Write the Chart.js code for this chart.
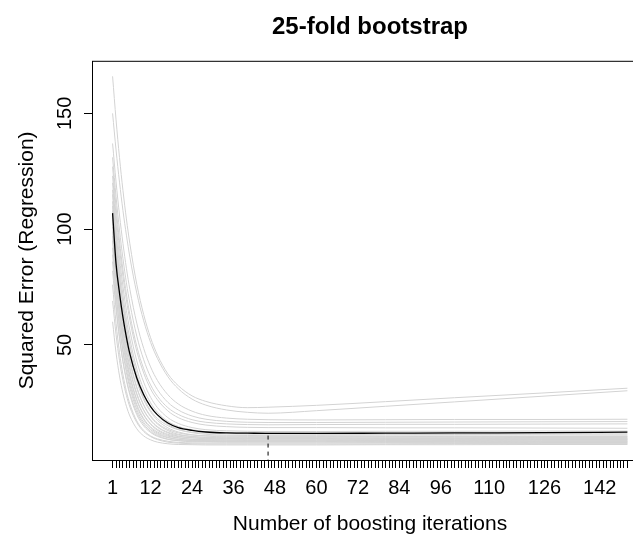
<!DOCTYPE html>
<html>
<head>
<meta charset="utf-8">
<script src="https://cdn.jsdelivr.net/npm/chart.js@4"></script>
<style>
  html, body { margin: 0; padding: 0; overflow: hidden; background: #fff; width: 633px; height: 537px; }
  canvas { display: block; }
</style>
</head>
<body>
<canvas id="c" width="740" height="537"></canvas>
<script>
// ---- data ----
const titleText = "25-fold bootstrap";
const xTitle = "Number of boosting iterations";
const yTitle = "Squared Error (Regression)";
const nIter = 150;
const mstopOpt = 46;
const xLabelTicks = [1, 12, 24, 36, 48, 60, 72, 84, 96, 110, 126, 142];
const yTicks = [50, 100, 150];
const iterations = [1, 2, 3, 4, 5, 6, 8, 10, 12, 14, 17, 20, 24, 28, 34, 40, 46, 60, 80, 100, 125, 150];

const meanRisk = [106.9, 85.0, 72.4, 61.9, 53.3, 46.1, 35.7, 28.5, 23.4, 19.8, 16.3, 14.3, 13.1, 12.4, 12.0, 11.9, 11.8, 11.8, 11.9, 12.0, 12.1, 12.3];

const fold01 = [166, 147.2, 130.9, 116.7, 104.4, 93.7, 76.2, 63.1, 53.1, 45.6, 37.5, 32.4, 28.0, 25.6, 23.7, 22.9, 23.1, 23.9, 25.5, 27.2, 29.2, 31.3];
const fold02 = [150, 134.2, 120.3, 108.0, 97.4, 87.9, 72.4, 60.4, 51.1, 44.1, 36.3, 31.1, 26.6, 24.0, 21.9, 20.9, 20.5, 21.6, 23.5, 25.4, 27.8, 30.2];
const fold03 = [137, 120.4, 106.1, 93.8, 83.1, 74.0, 59.4, 48.5, 40.5, 34.6, 28.5, 24.5, 21.4, 19.6, 18.4, 17.9, 17.7, 17.6, 17.7, 17.8, 17.8, 17.9];
const fold04 = [131, 114.0, 99.6, 87.3, 76.8, 67.9, 53.8, 43.6, 36.1, 30.7, 25.2, 21.9, 19.3, 17.9, 17.0, 16.6, 16.5, 16.5, 16.6, 16.7, 16.8, 16.9];
const fold05 = [127, 109.6, 94.9, 82.4, 72.0, 63.1, 49.4, 39.7, 32.7, 27.8, 22.9, 20.0, 17.7, 16.6, 15.9, 15.6, 15.5, 15.6, 15.7, 15.7, 15.8, 15.9];
const fold06 = [123, 106.0, 91.7, 79.5, 69.4, 60.7, 47.3, 37.9, 31.0, 26.3, 21.5, 18.6, 16.5, 15.4, 14.7, 14.4, 14.3, 14.3, 14.2, 14.2, 14.1, 14.0];
const fold07 = [120, 102.3, 87.6, 75.2, 64.9, 56.3, 43.1, 33.9, 27.4, 22.9, 18.6, 16.1, 14.3, 13.4, 12.9, 12.7, 12.6, 12.6, 12.7, 12.7, 12.8, 12.8];
const fold08 = [117, 98.8, 83.8, 71.4, 61.1, 52.6, 39.7, 31.0, 25.0, 20.9, 17.0, 14.8, 13.4, 12.6, 12.2, 12.1, 12.0, 11.9, 11.9, 11.8, 11.7, 11.6];
const fold09 = [115, 95.4, 79.5, 66.7, 56.2, 47.7, 35.3, 27.1, 21.7, 18.2, 15.1, 13.4, 12.3, 11.9, 11.6, 11.5, 11.5, 11.4, 11.4, 11.3, 11.2, 11.1];
const fold10 = [112, 94.5, 80.0, 68.1, 58.2, 50.0, 37.5, 29.1, 23.3, 19.4, 15.7, 13.5, 12.1, 11.4, 11.0, 10.9, 10.8, 10.8, 10.7, 10.7, 10.6, 10.6];
const fold11 = [110, 90.4, 74.6, 61.9, 51.8, 43.6, 31.8, 24.2, 19.4, 16.2, 13.5, 12.0, 11.1, 10.8, 10.6, 10.5, 10.5, 10.5, 10.5, 10.4, 10.4, 10.4];
const fold12 = [108, 90.3, 75.7, 63.9, 54.1, 46.2, 34.4, 26.3, 21.1, 17.4, 14.2, 12.4, 11.2, 10.6, 10.3, 10.2, 10.2, 10.2, 10.1, 10.1, 10.0, 10.0];
const fold13 = [106, 86.3, 70.5, 58.1, 48.2, 40.4, 29.1, 22.0, 17.6, 14.7, 12.3, 11.1, 10.4, 10.1, 9.9, 9.9, 9.9, 9.9, 9.8, 9.8, 9.7, 9.7];
const fold14 = [104, 86.2, 71.7, 60.0, 50.4, 42.7, 31.4, 23.9, 19.0, 15.8, 13.0, 11.4, 10.5, 10.0, 9.8, 9.7, 9.7, 9.7, 9.6, 9.6, 9.5, 9.5];
const fold15 = [101, 81.5, 66.1, 54.1, 44.5, 37.0, 26.5, 20.0, 16.0, 13.5, 11.4, 10.4, 9.9, 9.6, 9.5, 9.5, 9.5, 9.5, 9.4, 9.4, 9.3, 9.3];
const fold16 = [99, 81.3, 67.1, 55.7, 46.5, 39.2, 28.5, 21.7, 17.3, 14.4, 12.0, 10.6, 9.9, 9.5, 9.4, 9.3, 9.3, 9.3, 9.2, 9.2, 9.1, 9.1];
const fold17 = [97, 77.6, 62.4, 50.5, 41.4, 34.3, 24.3, 18.2, 14.6, 12.4, 10.6, 9.8, 9.3, 9.1, 9.0, 9.0, 9.0, 9.0, 9.0, 8.9, 8.9, 8.9];
const fold18 = [95, 77.3, 63.2, 52.1, 43.2, 36.1, 26.0, 19.7, 15.7, 13.1, 11.0, 9.9, 9.2, 9.0, 8.9, 8.8, 8.8, 8.8, 8.7, 8.7, 8.6, 8.6];
const fold19 = [92, 72.9, 58.2, 46.8, 38.0, 31.4, 22.1, 16.6, 13.4, 11.4, 9.9, 9.2, 8.8, 8.7, 8.6, 8.6, 8.6, 8.6, 8.5, 8.5, 8.4, 8.4];
const fold20 = [89, 71.8, 58.3, 47.7, 39.3, 32.7, 23.4, 17.7, 14.1, 11.9, 10.1, 9.2, 8.7, 8.5, 8.4, 8.4, 8.4, 8.4, 8.3, 8.3, 8.2, 8.2];
const fold21 = [86, 67.6, 53.6, 42.8, 34.7, 28.4, 19.9, 15.0, 12.2, 10.5, 9.2, 8.7, 8.4, 8.3, 8.2, 8.2, 8.2, 8.2, 8.1, 8.1, 8.0, 8.0];
const fold22 = [82, 65.6, 52.9, 42.9, 35.2, 29.2, 20.9, 15.8, 12.7, 10.9, 9.3, 8.6, 8.2, 8.1, 8.0, 8.0, 8.0, 8.0, 7.9, 7.9, 7.8, 7.8];
const fold23 = [76, 59.3, 46.7, 37.1, 29.9, 24.5, 17.2, 13.1, 10.7, 9.4, 8.4, 7.9, 7.7, 7.6, 7.6, 7.6, 7.6, 7.6, 7.6, 7.5, 7.5, 7.5];
const fold24 = [69, 54.4, 43.2, 34.7, 28.2, 23.2, 16.5, 12.6, 10.4, 9.1, 8.0, 7.6, 7.3, 7.2, 7.2, 7.2, 7.2, 7.2, 7.2, 7.3, 7.3, 7.3];
const fold25 = [60, 46.6, 36.6, 29.1, 23.5, 19.3, 13.8, 10.7, 9.0, 8.0, 7.3, 7.0, 6.9, 6.8, 6.8, 6.8, 6.8, 6.8, 6.9, 6.9, 7.0, 7.0];

const folds = [fold01, fold02, fold03, fold04, fold05, fold06, fold07, fold08, fold09, fold10,
               fold11, fold12, fold13, fold14, fold15, fold16, fold17, fold18, fold19, fold20,
               fold21, fold22, fold23, fold24, fold25];

// ---- chart ----
const FONT = "'Liberation Sans', Arial, Helvetica, sans-serif";
const yMin = 0.3, yMax = 172.7;
const xMin = -4.96, xMax = 155.96;

const toXY = arr => iterations.map((it, i) => ({ x: it, y: arr[i] }));

const datasets = [];
datasets.push({
  data: [{ x: mstopOpt, y: yMin - 5 }, { x: mstopOpt, y: meanRisk[iterations.indexOf(mstopOpt)] }],
  borderColor: '#000', borderWidth: 1, borderDash: [4, 4], pointRadius: 0, tension: 0
});
datasets.push({
  data: toXY(meanRisk), borderColor: '#000', borderWidth: 1.3, pointRadius: 0,
  cubicInterpolationMode: 'monotone'
});
folds.forEach(f => datasets.push({
  data: toXY(f), borderColor: '#d3d3d3', borderWidth: 1, pointRadius: 0,
  cubicInterpolationMode: 'monotone'
}));

const boxPlugin = {
  id: 'box',
  afterDraw(chart) {
    const { ctx, chartArea: a, scales } = chart;
    ctx.save();
    ctx.strokeStyle = '#000';
    ctx.lineWidth = 1;
    ctx.strokeRect(a.left + 0.5, a.top + 0.5, a.right - a.left, a.bottom - a.top);
    // rotated y tick labels (R style, las = 0)
    ctx.fillStyle = '#000';
    ctx.font = '20px ' + FONT;
    ctx.textAlign = 'center';
    ctx.textBaseline = 'middle';
    yTicks.forEach(v => {
      const py = scales.y.getPixelForValue(v);
      ctx.save();
      ctx.translate(65, py);
      ctx.rotate(-Math.PI / 2);
      ctx.fillText(String(v), 0, 0);
      ctx.restore();
    });
    ctx.restore();
  }
};

new Chart(document.getElementById('c'), {
  type: 'line',
  data: { datasets },
  plugins: [boxPlugin],
  options: {
    responsive: false,
    animation: false,
    devicePixelRatio: 1,
    layout: { padding: { left: 0, right: 0, top: 0, bottom: 0 } },
    plugins: {
      legend: { display: false },
      tooltip: { enabled: false },
      title: {
        display: true, text: titleText, color: '#000',
        font: { family: FONT, size: 24, weight: 'bold', lineHeight: 1.2 },
        padding: { top: 13, bottom: 19 }
      }
    },
    scales: {
      x: {
        type: 'linear', min: xMin, max: xMax,
        afterBuildTicks(s) {
          const t = [];
          for (let i = 1; i <= nIter; i++) t.push({ value: i });
          s.ticks = t;
        },
        afterFit(s) { s.height = 77; },
        ticks: {
          autoSkip: false, minRotation: 0, maxRotation: 0, padding: 8,
          color: '#000', font: { family: FONT, size: 20, lineHeight: 1.2 },
          callback: v => (xLabelTicks.includes(v) ? String(v) : '')
        },
        grid: { drawOnChartArea: false, drawTicks: true, tickLength: 8, color: '#000', lineWidth: 1 },
        border: { display: false },
        title: {
          display: true, text: xTitle, color: '#000',
          font: { family: FONT, size: 21, lineHeight: 1.2 },
          padding: { top: 0, bottom: 0 }
        }
      },
      y: {
        type: 'linear', position: 'left', min: yMin, max: yMax,
        afterBuildTicks(s) { s.ticks = yTicks.map(v => ({ value: v })); },
        afterFit(s) { s.width = 92; },
        ticks: { display: false },
        grid: { drawOnChartArea: false, drawTicks: true, tickLength: 8, color: '#000', lineWidth: 1 },
        border: { display: false },
        title: {
          display: true, text: yTitle, color: '#000',
          font: { family: FONT, size: 21, lineHeight: 1.2 },
          padding: { top: 15, bottom: 0 }
        }
      },
      yRight: {
        type: 'linear', position: 'right', min: yMin, max: yMax,
        afterFit(s) { s.width = 92; },
        ticks: { display: false },
        grid: { display: false },
        border: { display: false }
      }
    }
  }
});
</script>
</body>
</html>
